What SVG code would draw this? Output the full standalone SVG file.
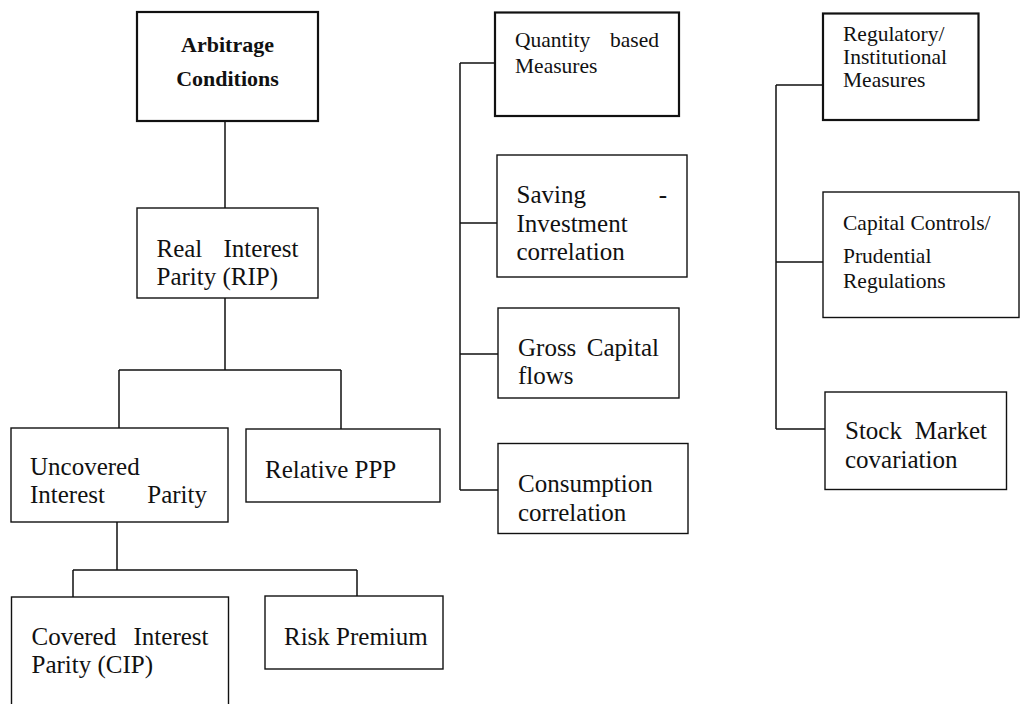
<svg xmlns="http://www.w3.org/2000/svg" width="1020" height="704" viewBox="0 0 1020 704">
<style>
.box{fill:#fff;stroke:#111;stroke-width:1.4}
.hbox{fill:#fff;stroke:#111;stroke-width:2.2}
.t{font-family:"Liberation Serif","Times New Roman",serif;font-size:25px;fill:#111}
.s{font-family:"Liberation Serif","Times New Roman",serif;font-size:21.5px;fill:#111}
.b{font-family:"Liberation Serif","Times New Roman",serif;font-size:22px;font-weight:bold;fill:#111}
.e{text-anchor:end}
.c{text-anchor:middle}
.ln{fill:none;stroke:#111;stroke-width:1.5}
</style>
<rect width="1020" height="704" fill="#fff"/>
<g id="connectors">
<path class="ln" d="M225,121V208"/>
<path class="ln" d="M225,298V370M119,370H341M119,370V428M341,370V429"/>
<path class="ln" d="M117,522V570M73,570H357M73,570V597M357,570V596"/>
<path class="ln" d="M460,63V490M460,63H495M460,223H497M460,354H498M460,490H498"/>
<path class="ln" d="M776,85V429M776,85H823M776,262H823M776,429H825"/>
</g>
<g id="arbitrage">
<rect class="hbox" x="137" y="12" width="181" height="109"/>
<text class="b c" x="227.5" y="52">Arbitrage</text>
<text class="b c" x="227.5" y="86">Conditions</text>
</g>
<g id="rip">
<rect class="box" x="137" y="208" width="181" height="90"/>
<text class="t" x="156.5" y="256.5">Real</text>
<text class="t e" x="298.5" y="256.5">Interest</text>
<text class="t" x="156.5" y="285">Parity (RIP)</text>
</g>
<g id="uip">
<rect class="box" x="11" y="428" width="217" height="94"/>
<text class="t" x="30" y="475">Uncovered</text>
<text class="t" x="30" y="503">Interest</text>
<text class="t e" x="207" y="503">Parity</text>
</g>
<g id="ppp">
<rect class="box" x="246" y="429" width="194" height="73"/>
<text class="t" x="265" y="478">Relative PPP</text>
</g>
<g id="cip">
<rect class="box" x="11.5" y="597" width="217" height="112"/>
<text class="t" x="31.5" y="645">Covered</text>
<text class="t e" x="208.5" y="645">Interest</text>
<text class="t" x="31.5" y="673">Parity (CIP)</text>
</g>
<g id="risk">
<rect class="box" x="265" y="596" width="178" height="73"/>
<text class="t" x="284" y="645">Risk Premium</text>
</g>
<g id="quantity">
<rect class="hbox" x="495" y="12.5" width="184" height="103.5"/>
<text class="s" x="515" y="47">Quantity</text>
<text class="s e" x="659" y="47">based</text>
<text class="s" x="515" y="73">Measures</text>
</g>
<g id="saving">
<rect class="box" x="497" y="155" width="190" height="122"/>
<text class="t" x="516.5" y="203">Saving</text>
<text class="t e" x="667" y="203">-</text>
<text class="t" x="516.5" y="231.5">Investment</text>
<text class="t" x="516.5" y="260">correlation</text>
</g>
<g id="gross">
<rect class="box" x="498" y="308" width="181" height="90"/>
<text class="t" x="518" y="356">Gross</text>
<text class="t e" x="659" y="356">Capital</text>
<text class="t" x="518" y="384">flows</text>
</g>
<g id="consumption">
<rect class="box" x="498" y="443.5" width="190" height="90"/>
<text class="t" x="518" y="492">Consumption</text>
<text class="t" x="518" y="520.5">correlation</text>
</g>
<g id="regulatory">
<rect class="hbox" x="823" y="13.5" width="155.5" height="106.5"/>
<text class="s" x="843" y="41">Regulatory/</text>
<text class="s" x="843" y="64">Institutional</text>
<text class="s" x="843" y="87">Measures</text>
</g>
<g id="capital">
<rect class="box" x="823" y="192" width="196" height="125.5"/>
<text class="s" x="843" y="230">Capital Controls/</text>
<text class="s" x="843" y="263">Prudential</text>
<text class="s" x="843" y="288">Regulations</text>
</g>
<g id="stock">
<rect class="box" x="825" y="392" width="181.5" height="97.5"/>
<text class="t" x="845" y="439">Stock</text>
<text class="t e" x="987" y="439">Market</text>
<text class="t" x="845" y="468">covariation</text>
</g>
</svg>
